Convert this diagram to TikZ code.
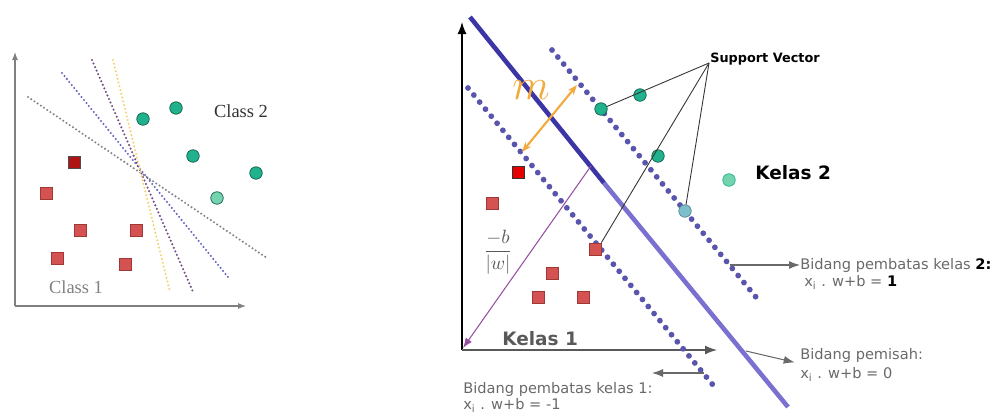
\documentclass[tikz,border=0pt]{standalone}
\usepackage{amsmath}
\usepackage{fontspec}
\setmainfont{DejaVu Sans}
\newfontfamily\classfont{Liberation Serif}
\usepackage{xcolor}
\definecolor{svteal}{RGB}{32,178,140}
\definecolor{svtealdark}{RGB}{20,95,75}
\definecolor{svlight}{RGB}{115,212,175}
\definecolor{svsky}{RGB}{125,190,205}
\definecolor{svred}{RGB}{212,82,82}
\definecolor{svreddark}{RGB}{160,55,55}
\definecolor{svblue}{RGB}{60,53,165}
\definecolor{svlav}{RGB}{122,112,208}
\definecolor{svdot}{RGB}{90,85,172}
\definecolor{svorange}{RGB}{242,170,60}
\definecolor{svpurple}{RGB}{150,80,160}
\definecolor{svgray}{RGB}{105,105,105}
\usepackage{tikz}
\usetikzlibrary{arrows.meta, positioning}

\begin{document}
\begin{tikzpicture}[x=0.2mm, y=-0.2mm,
  redsq/.style={draw=svreddark, fill=svred, minimum size=2.4mm, inner sep=0pt},
  tealdot/.style={circle, draw=svtealdark, fill=svteal, minimum size=2.5mm, inner sep=0pt},
  guess/.style={line width=1.3pt, dash pattern=on 0pt off 2.2pt, line cap=round},
  marginline/.style={svdot, line width=3.3pt, dash pattern=on 0pt off 5.2pt, line cap=round},
  note/.style={font=\fontsize{8.3}{10}\selectfont, text=svgray, anchor=west, inner sep=0pt},
  pointer/.style={svgray, line width=0.6pt, -{Latex[length=2.2mm, width=1.6mm]}}]

\useasboundingbox (0,0) rectangle (994,416);

% === Left: many possible separators ===
\draw[gray, line width=0.6pt, -{Latex[length=1.6mm, width=1.2mm]}] (15,306) -- (15,52);
\draw[gray, line width=0.6pt, -{Latex[length=1.6mm, width=1.2mm]}] (15,306) -- (246,306);

\draw[guess, color={rgb,255:red,130;green,130;blue,140}] (28,97) -- (267,258);
\draw[guess, color={rgb,255:red,100;green,100;blue,190}] (62,73) -- (228,277);
\draw[guess, color={rgb,255:red,110;green,70;blue,130}] (92,60) -- (193,292);
\draw[guess, color={rgb,255:red,245;green,210;blue,110}] (113,60) -- (170,292);

\node[tealdot] (la) at (143,119) {};
\node[tealdot] (lb) at (176,108) {};
\node[tealdot] (lc) at (193,156) {};
\node[tealdot] (ld) at (256,173) {};
\node[tealdot, fill=svlight] (le) at (217,198) {};

\node[redsq, fill={rgb,255:red,175;green,20;blue,20}, draw=black!70] (lr1) at (74,162) {};
\node[redsq] (lr2) at (46,193) {};
\node[redsq] (lr3) at (80,230) {};
\node[redsq] (lr4) at (136,230) {};
\node[redsq] (lr5) at (57,258) {};
\node[redsq] (lr6) at (125,264) {};

\node[font=\classfont\fontsize{10.5}{12}\selectfont, text=black!80] (cls2) at (241,111) {Class 2};
\node[font=\classfont\fontsize{10.5}{12}\selectfont, text=gray] (cls1) at (76,287) {Class 1};

% === Right: maximum margin ===
\coordinate (org) at (462,350);
\draw[black, line width=0.8pt, -{Latex[length=2.4mm, width=1.8mm]}] (org) -- (462,22);
\draw[black!65, line width=0.8pt, -{Latex[length=2.4mm, width=1.8mm]}] (org) -- (717,350);

% margins and separator
\draw[marginline] (552,50) -- (760,302);
\draw[marginline] (468,88) -- (713,385);
\draw[svblue, line width=2.6pt] (470,17) -- (604,183);
\draw[svlav, line width=2.6pt] (604,183) -- (788,407);

% margin width m
\draw[svorange, line width=1.2pt, {Stealth[length=2mm]}-{Stealth[length=2mm]}] (522,152) -- (577,85);
\node[text=svorange, font=\fontsize{26}{28}\selectfont] (mlab) at (531,90) {$m$};

% distance to origin
\coordinate (foot) at (591,166);
\draw[svpurple, line width=0.6pt, -{Latex[length=2mm, width=1.5mm]}] (foot) -- (463,348);
\node[text=black!65, font=\fontsize{11}{13}\selectfont] (bw) at (498,252) {$\dfrac{-b}{|w|}$};

% points
\node[redsq, fill={rgb,255:red,230;green,0;blue,0}, draw=black!80] (r1) at (518,172) {};
\node[redsq] (r2) at (492,203) {};
\node[redsq] (r3) at (595,249) {};
\node[redsq] (r4) at (552,273) {};
\node[redsq] (r5) at (538,297) {};
\node[redsq] (r6) at (583,297) {};

\node[tealdot] (c1) at (601,109) {};
\node[tealdot] (c2) at (640,95) {};
\node[tealdot] (c3) at (658,156) {};
\node[tealdot, fill=svlight, draw=svteal] (c4) at (729,180) {};
\node[tealdot, fill=svsky, draw=svsky!70!black] (c5) at (685,211) {};

% support vector pointers
\node[font=\bfseries\fontsize{7.3}{9}\selectfont, anchor=south west, inner sep=0pt] (sv) at (710,66) {Support Vector};
\coordinate (svtip) at (709,63);
\draw[black!80, line width=0.5pt] (svtip) -- (c1);
\draw[black!80, line width=0.5pt] (svtip) -- (r3.north east);
\draw[black!80, line width=0.5pt] (svtip) -- (c5);

\node[font=\bfseries\fontsize{10.5}{12}\selectfont, anchor=west, inner sep=0pt] (k2) at (755,173) {Kelas 2};
\node[font=\bfseries\fontsize{10.5}{12}\selectfont, text=black!65, anchor=west, inner sep=0pt] (k1) at (502,339) {Kelas 1};

% plane labels
\node[note] (n2) at (800,265) {Bidang pembatas kelas \textcolor{black}{\bfseries 2:}};
\node[note] (n2eq) at (804,282) {x\textsubscript{i} . w+b = \textcolor{black}{\bfseries 1}};
\node[note] (n0) at (800,355) {Bidang pemisah:};
\node[note] (n0eq) at (800,374) {x\textsubscript{i} . w+b = 0};
\node[note] (n1) at (463,389) {Bidang pembatas kelas 1:};
\node[note] (n1eq) at (463,405) {x\textsubscript{i} . w+b = -1};

\coordinate (p2) at (730,265);
\coordinate (p0) at (746,351);
\coordinate (p1a) at (704,373);
\coordinate (p1b) at (652,373);
\draw[pointer] (p2) -- (n2.west);
\draw[pointer] (p0) -- ([xshift=-3pt]n0.south west);
\draw[pointer] (p1a) -- (p1b);

\end{tikzpicture}
\end{document}
